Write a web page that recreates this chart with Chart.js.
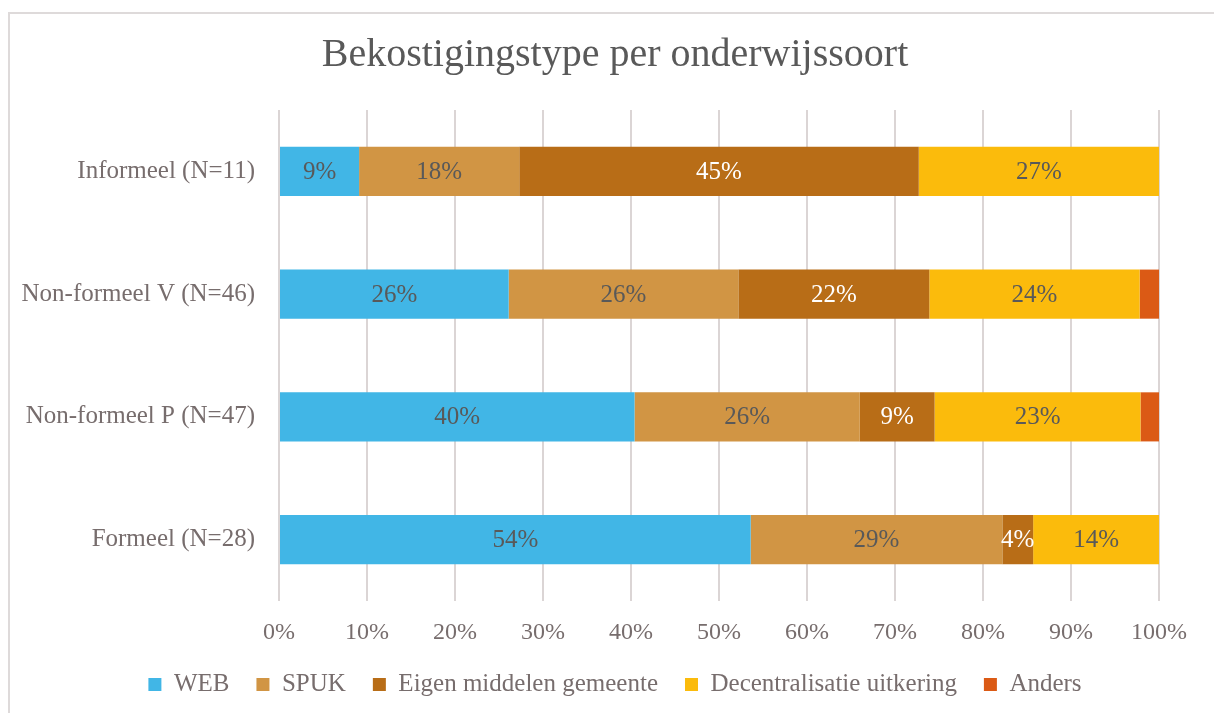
<!DOCTYPE html>
<html>
<head>
<meta charset="utf-8">
<title>Bekostigingstype per onderwijssoort</title>
<script src="https://cdn.jsdelivr.net/npm/chart.js@4/dist/chart.umd.min.js"></script>
<style>
  html, body { margin: 0; padding: 0; background: #fff; overflow: hidden; }
  #wrap { position: relative; width: 1214px; height: 713px; overflow: hidden; }
  #frame { position: absolute; left: 8px; top: 12px; width: 1240px; height: 740px; border: 2px solid #dedada; }
  #chart { position: absolute; left: 0; top: 0; }
</style>
</head>
<body>
<div id="wrap">
  <div id="frame"></div>
  <canvas id="chart" width="1214" height="713"></canvas>
</div>
<script>
// categorieen (van boven naar beneden)
const categories = ["Informeel (N=11)", "Non-formeel V (N=46)", "Non-formeel P (N=47)", "Formeel (N=28)"];

// aandelen in procenten
const web = [9.1, 26.1, 40.4, 53.6];
const spuk = [18.2, 26.1, 25.6, 28.6];
const eigenMiddelen = [45.4, 21.7, 8.5, 3.5];
const decentralisatie = [27.3, 23.9, 23.4, 14.3];
const anders = [0, 2.2, 2.1, 0];

const xTicks = [0, 10, 20, 30, 40, 50, 60, 70, 80, 90, 100];

const serif = "'Liberation Serif', 'DejaVu Serif', serif";
const axisColor = "#776d6d";

// labels in de balken tekenen (geen datalabels plugin beschikbaar)
const barLabels = {
  id: "barLabels",
  afterDatasetsDraw(chart) {
    const ctx = chart.ctx;
    ctx.save();
    ctx.font = "25px " + serif;
    ctx.textAlign = "center";
    ctx.textBaseline = "middle";
    chart.data.datasets.forEach((ds, i) => {
      const meta = chart.getDatasetMeta(i);
      if (meta.hidden) return;
      meta.data.forEach((bar, j) => {
        const v = ds.data[j];
        if (!v || Math.round(v) < 3) return;
        ctx.fillStyle = ds.labelColor;
        ctx.fillText(Math.round(v) + "%", (bar.x + bar.base) / 2, bar.y + 1);
      });
    });
    ctx.restore();
  },
};

const series = [
  { label: "WEB", data: web, backgroundColor: "#41b6e6", labelColor: "#595959" },
  { label: "SPUK", data: spuk, backgroundColor: "#d19544", labelColor: "#595959" },
  { label: "Eigen middelen gemeente", data: eigenMiddelen, backgroundColor: "#b86d17", labelColor: "#ffffff" },
  { label: "Decentralisatie uitkering", data: decentralisatie, backgroundColor: "#fbbb0c", labelColor: "#595959" },
  { label: "Anders", data: anders, backgroundColor: "#db5a15", labelColor: "#595959" },
];

new Chart(document.getElementById("chart"), {
  type: "bar",
  data: {
    labels: categories,
    datasets: series.map((s) => ({
      ...s,
      borderWidth: 0,
      categoryPercentage: 1,
      barPercentage: 0.4,
    })),
  },
  options: {
    indexAxis: "y",
    responsive: false,
    animation: false,
    layout: { padding: { left: 16, right: 0, top: 0, bottom: 6 } },
    plugins: {
      title: {
        display: true,
        text: "Bekostigingstype per onderwijssoort",
        color: "#595959",
        font: { family: serif, size: 40, weight: "normal" },
        padding: { top: 31, bottom: 31 },
      },
      legend: {
        position: "bottom",
        labels: {
          color: axisColor,
          font: { family: serif, size: 25, lineHeight: 1 },
          boxWidth: 13,
          boxHeight: 13,
          padding: 27,
        },
      },
      tooltip: { enabled: false },
    },
    scales: {
      x: {
        stacked: true,
        min: 0,
        max: 100,
        afterBuildTicks: (scale) => {
          scale.ticks = xTicks.map((v) => ({ value: v }));
        },
        ticks: {
          color: axisColor,
          font: { family: serif, size: 24, lineHeight: 1 },
          padding: 20,
          callback: (v) => v + "%",
        },
        grid: { color: "#dbd5d5", lineWidth: 2, drawTicks: false },
        border: { display: false },
        afterFit: (scale) => {
          scale.height = 44;
        },
      },
      y: {
        stacked: true,
        ticks: {
          color: axisColor,
          font: { family: serif, size: 25 },
          padding: 24,
        },
        grid: { display: false, drawTicks: false },
        border: { display: false },
        afterFit: (scale) => {
          scale.width = 263;
        },
      },
      // lege as rechts, houdt ruimte vrij zodat titel en legenda gecentreerd blijven
      yRight: {
        type: "category",
        position: "right",
        ticks: { display: false },
        grid: { display: false, drawTicks: false },
        border: { display: false },
        afterFit: (scale) => {
          scale.width = 55;
        },
      },
    },
  },
  plugins: [barLabels],
});
</script>
</body>
</html>
